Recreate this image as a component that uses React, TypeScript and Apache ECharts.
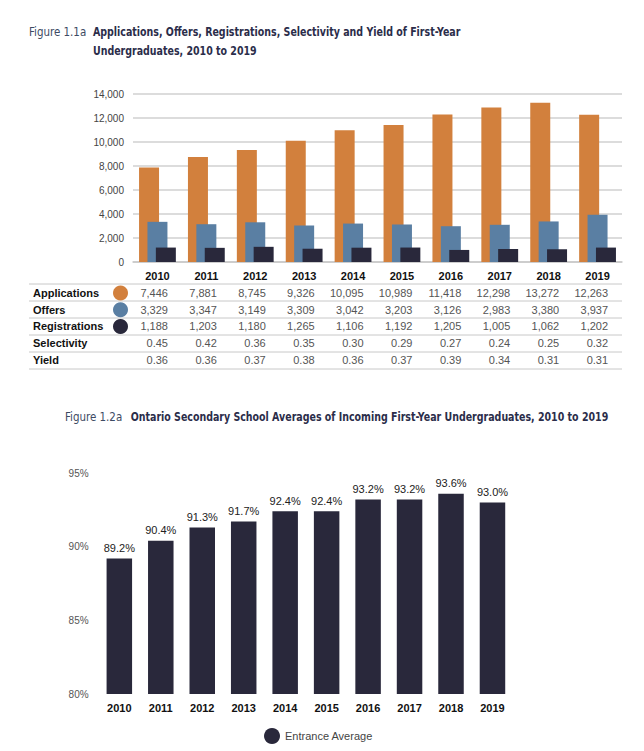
import React, { useEffect, useRef } from "react";
import * as echarts from "echarts";

const years = ["2010", "2011", "2012", "2013", "2014", "2015", "2016", "2017", "2018", "2019"];

// Bar heights as drawn in the picture
const applicationsBars = [7881, 8745, 9326, 10095, 10989, 11418, 12298, 12870, 13272, 12263];
const offersBars = [3347, 3149, 3309, 3042, 3203, 3126, 2983, 3100, 3380, 3937];
const registrationsBars = [1203, 1180, 1265, 1106, 1192, 1205, 1005, 1080, 1062, 1202];

// Values printed in the table
const applicationsTable = [7446, 7881, 8745, 9326, 10095, 10989, 11418, 12298, 13272, 12263];
const offersTable = [3329, 3347, 3149, 3309, 3042, 3203, 3126, 2983, 3380, 3937];
const registrationsTable = [1188, 1203, 1180, 1265, 1106, 1192, 1205, 1005, 1062, 1202];
const selectivityTable = [0.45, 0.42, 0.36, 0.35, 0.3, 0.29, 0.27, 0.24, 0.25, 0.32];
const yieldTable = [0.36, 0.36, 0.37, 0.38, 0.36, 0.37, 0.39, 0.34, 0.31, 0.31];

const entranceAverage = [89.2, 90.4, 91.3, 91.7, 92.4, 92.4, 93.2, 93.2, 93.6, 93.0];

const yTicks1 = [0, 2000, 4000, 6000, 8000, 10000, 12000, 14000];
const yTicks2 = [80, 85, 90, 95];

const ORANGE = "#d2803d";
const BLUE = "#5a7fa3";
const DARK = "#29283b";
const SANS = '"Liberation Sans", Arial, sans-serif';
const NARROW = '"Liberation Sans Narrow", "DejaVu Sans Condensed", sans-serif';

const fmt = (v: number) => v.toLocaleString("en-US");

export default function App() {
  const ref = useRef<HTMLDivElement>(null);
  useEffect(() => {
    if (!ref.current) return;
    const chart = echarts.init(ref.current, null, { renderer: "svg" });

    const g1Left = 133;
    const g1Width = 489;
    const band1 = g1Width / years.length;
    const g2Left = 98.6;
    const g2Width = 414.6;
    const TS = 0.81;

    const graphic: any[] = [];
    // titles
    graphic.push({ type: "text", x: 29, y: 32, scaleX: 0.88, style: { text: "Figure 1.1a", font: `13px ${NARROW}`, fill: "#3d4a63", verticalAlign: "middle" } });
    graphic.push({ type: "text", x: 93, y: 32, scaleX: TS, style: { text: "Applications, Offers, Registrations, Selectivity and Yield of First-Year", font: `bold 13px ${NARROW}`, fill: "#2b2d4a", verticalAlign: "middle" } });
    graphic.push({ type: "text", x: 93, y: 50.5, scaleX: TS, style: { text: "Undergraduates, 2010 to 2019", font: `bold 13px ${NARROW}`, fill: "#2b2d4a", verticalAlign: "middle" } });
    graphic.push({ type: "text", x: 65, y: 417, scaleX: 0.88, style: { text: "Figure 1.2a", font: `13px ${NARROW}`, fill: "#3d4a63", verticalAlign: "middle" } });
    graphic.push({ type: "text", x: 130.7, y: 417, scaleX: TS, style: { text: "Ontario Secondary School Averages of Incoming First-Year Undergraduates, 2010 to 2019", font: `bold 13px ${NARROW}`, fill: "#2b2d4a", verticalAlign: "middle" } });

    // table
    const lineYs = [284, 301, 318, 335, 352, 369];
    lineYs.forEach((y) => {
      graphic.push({ type: "line", shape: { x1: 29, y1: y, x2: 622, y2: y }, style: { stroke: "#c8c8c8", lineWidth: 1 } });
    });
    const rows: { label: string; values: string[]; color?: string }[] = [
      { label: "Applications", values: applicationsTable.map(fmt), color: ORANGE },
      { label: "Offers", values: offersTable.map(fmt), color: BLUE },
      { label: "Registrations", values: registrationsTable.map(fmt), color: DARK },
      { label: "Selectivity", values: selectivityTable.map((v) => v.toFixed(2)) },
      { label: "Yield", values: yieldTable.map((v) => v.toFixed(2)) },
    ];
    rows.forEach((row, r) => {
      const cy = 293 + r * 16.7;
      graphic.push({ type: "text", x: 33, y: cy, style: { text: row.label, font: `bold 11px ${SANS}`, fill: "#111", verticalAlign: "middle" } });
      if (row.color) {
        graphic.push({ type: "circle", shape: { cx: 120.5, cy, r: 7.5 }, style: { fill: row.color } });
      }
      row.values.forEach((v, i) => {
        const cx = g1Left + band1 * (i + 0.5);
        graphic.push({ type: "text", x: cx + 10.5, y: cy, style: { text: v, font: `11px ${SANS}`, fill: "#555", align: "right", verticalAlign: "middle" } });
      });
    });

    const option: any = {
      animation: false,
      backgroundColor: "#fff",
      graphic,
      legend: {
        data: ["Entrance Average"],
        left: 259,
        top: 723,
        icon: "circle",
        itemWidth: 16,
        itemHeight: 16,
        textStyle: { fontFamily: SANS, fontSize: 11, color: "#444" },
      },
      grid: [
        { left: g1Left, top: 94, width: g1Width, height: 168, containLabel: false },
        { left: g2Left, top: 473, width: g2Width, height: 221, containLabel: false },
      ],
      xAxis: [
        {
          type: "category",
          gridIndex: 0,
          data: years,
          axisLine: { lineStyle: { color: "#c8c8c8", width: 1.5 } },
          axisTick: { show: false },
          axisLabel: { fontFamily: SANS, fontWeight: "bold", fontSize: 11, color: "#111", margin: 8 },
        },
        {
          type: "category",
          gridIndex: 1,
          data: years,
          axisLine: { show: false },
          axisTick: { show: false },
          axisLabel: { fontFamily: SANS, fontWeight: "bold", fontSize: 11, color: "#111", margin: 8 },
        },
      ],
      yAxis: [
        {
          type: "value",
          gridIndex: 0,
          min: yTicks1[0],
          max: yTicks1[yTicks1.length - 1],
          interval: yTicks1[1] - yTicks1[0],
          axisLine: { show: false },
          axisTick: { show: false },
          splitLine: { lineStyle: { color: "#d0d0d0", width: 1.5 } },
          axisLabel: { fontFamily: SANS, fontSize: 10, color: "#444", margin: 9, formatter: (v: number) => fmt(v) },
        },
        {
          type: "value",
          gridIndex: 1,
          min: yTicks2[0],
          max: yTicks2[yTicks2.length - 1],
          interval: yTicks2[1] - yTicks2[0],
          axisLine: { show: false },
          axisTick: { show: false },
          splitLine: { show: false },
          axisLabel: { fontFamily: SANS, fontSize: 10, color: "#555", margin: 10, formatter: (v: number) => `${v}%` },
        },
      ],
      series: [
        { name: "Applications", type: "bar", xAxisIndex: 0, yAxisIndex: 0, data: applicationsBars, barWidth: 20, barGap: "-58%", itemStyle: { color: ORANGE } },
        { name: "Offers", type: "bar", xAxisIndex: 0, yAxisIndex: 0, data: offersBars, barWidth: 20, barGap: "-58%", itemStyle: { color: BLUE } },
        { name: "Registrations", type: "bar", xAxisIndex: 0, yAxisIndex: 0, data: registrationsBars, barWidth: 20, barGap: "-58%", itemStyle: { color: DARK } },
        {
          name: "Entrance Average",
          type: "bar",
          xAxisIndex: 1,
          yAxisIndex: 1,
          data: entranceAverage,
          barWidth: 25.5,
          itemStyle: { color: DARK },
          label: {
            show: true,
            position: "top",
            distance: 5,
            fontFamily: SANS,
            fontSize: 11,
            color: "#222",
            formatter: (p: any) => `${Number(p.value).toFixed(1)}%`,
          },
        },
      ],
    };
    chart.setOption(option);
    return () => chart.dispose();
  }, []);

  return <div ref={ref} style={{ position: "absolute", left: 0, top: 0, width: 644, height: 751 }} />;
}
